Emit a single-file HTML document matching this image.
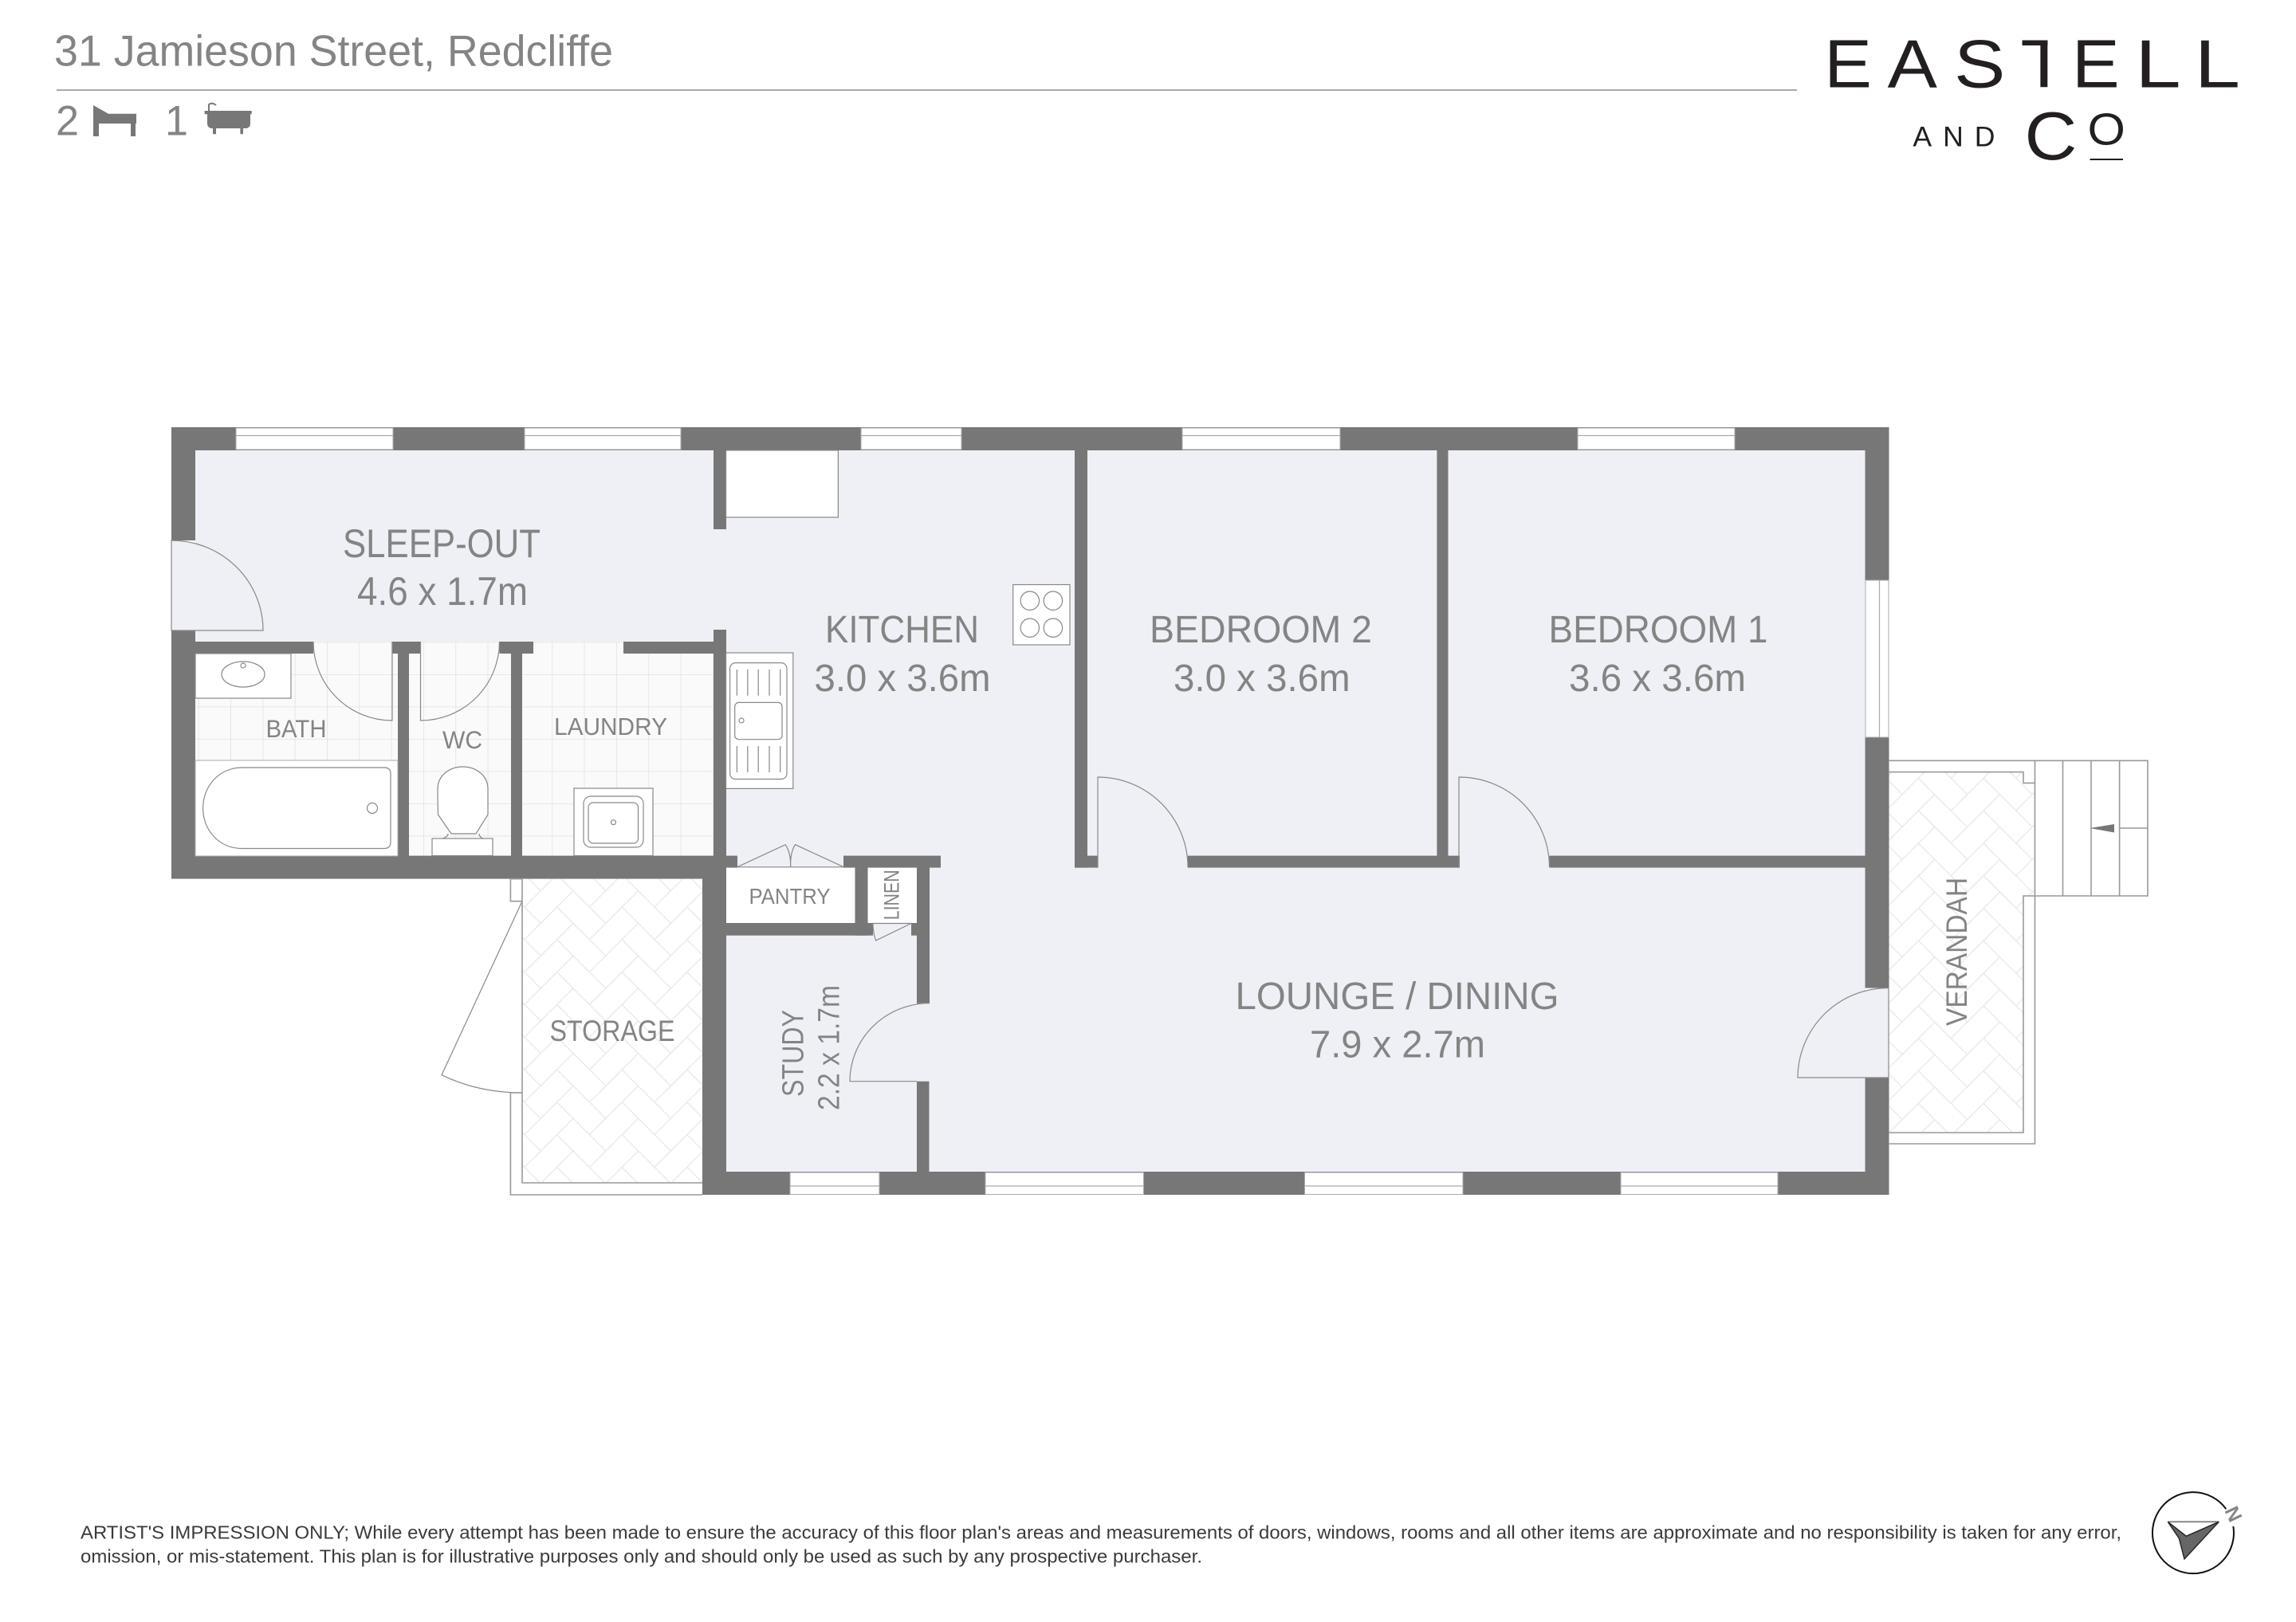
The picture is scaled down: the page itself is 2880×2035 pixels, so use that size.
<!DOCTYPE html>
<html><head><meta charset="utf-8"><style>
html,body{margin:0;padding:0;background:#fff}
svg{display:block}
text{font-family:"Liberation Sans",sans-serif;fill:#848484}
.l{stroke:#888;stroke-width:1.2;fill:none}
.w{stroke:#888;stroke-width:1.2;fill:#fff}
.win{fill:#fff;stroke:#aaa;stroke-width:1}
.g{stroke:#999;stroke-width:1.6;fill:none}
.logo text{fill:#231f20}
</style></head><body>
<svg width="2880" height="2035" viewBox="0 0 2880 2035" xmlns="http://www.w3.org/2000/svg">
<defs>
<pattern id="hb1" width="81.6" height="40.8" patternUnits="userSpaceOnUse" patternTransform="translate(698.6,1138)"><path d="M0 0L40.8 40.8M40.8 0L61.2 20.4M40.8 40.8L81.6 0M0 40.8L20.4 20.4" stroke="#e6e6e6" stroke-width="1.2" fill="none"/></pattern>
<pattern id="hb2" width="81.6" height="40.8" patternUnits="userSpaceOnUse" patternTransform="translate(2406.4,976.3)"><path d="M0 0L40.8 40.8M40.8 0L61.2 20.4M40.8 40.8L81.6 0M0 40.8L20.4 20.4" stroke="#e6e6e6" stroke-width="1.2" fill="none"/></pattern>
<pattern id="tile" width="40.33" height="40.5" patternUnits="userSpaceOnUse" patternTransform="translate(289,846)"><rect width="40.33" height="40.5" fill="#fafafa"/><path d="M0 0V40.5M0 0H40.33" stroke="#e2e2e2" stroke-width="1.6" fill="none"/></pattern>
<clipPath id="tc"><rect x="2500" y="30" width="68.5" height="100"/></clipPath>
</defs>
<rect width="2880" height="2035" fill="#fff"/>

<!-- header -->
<text x="68" y="82.7" font-size="55" textLength="701" lengthAdjust="spacingAndGlyphs">31 Jamieson Street, Redcliffe</text>
<rect x="71" y="112" width="2183" height="2" fill="#aaa"/>
<text x="70" y="169.3" font-size="53" textLength="29" lengthAdjust="spacingAndGlyphs">2</text>
<text x="207" y="169.3" font-size="53" textLength="29" lengthAdjust="spacingAndGlyphs">1</text>
<path d="M117 132L136 142.7L171 142.7L171 155L170 155L170 171L164 171L164 155L124 155L124 171L117 171Z" fill="#777"/>
<path d="M256.6 139H315.7V143.3H314V155Q314 160 309 161H305V168.3H301.4V161H271V168.3H267V161H265Q260 160 260 155V143.3H256.6Z" fill="#777"/>
<path d="M262 139V131Q266 128 271 132" stroke="#777" stroke-width="2" fill="none"/>

<!-- logo -->
<g class="logo">
<text x="2288.3" y="109.3" font-size="85" textLength="59.7" lengthAdjust="spacingAndGlyphs">E</text>
<text x="2367.7" y="109.3" font-size="85" textLength="62.3" lengthAdjust="spacingAndGlyphs">A</text>
<text x="2451" y="109.3" font-size="85" textLength="64.4" lengthAdjust="spacingAndGlyphs">S</text>
<text x="2534.4" y="109.3" font-size="85" textLength="59" lengthAdjust="spacingAndGlyphs" clip-path="url(#tc)">T</text>
<text x="2599" y="109.3" font-size="85" textLength="59.7" lengthAdjust="spacingAndGlyphs">E</text>
<text x="2678.3" y="109.3" font-size="85" textLength="57.4" lengthAdjust="spacingAndGlyphs">L</text>
<text x="2752.7" y="109.3" font-size="85" textLength="57.4" lengthAdjust="spacingAndGlyphs">L</text>
<text x="2399.4" y="183.7" font-size="35.6" textLength="103" lengthAdjust="spacing">AND</text>
<text x="2539.5" y="200" font-size="85" textLength="65.9" lengthAdjust="spacingAndGlyphs">C</text>
<text x="2618.5" y="181.5" font-size="57" textLength="47.4" lengthAdjust="spacingAndGlyphs">O</text>
<rect x="2621.5" y="199" width="41.5" height="2" fill="#231f20"/>
</g>

<!-- interior -->
<polygon points="245,565 2340,565 2340,1470 881,1470 881,1102 245,1102" fill="#eef0f5"/>

<!-- tiled rooms -->
<rect x="245" y="820" width="254" height="254" fill="url(#tile)"/>
<rect x="393" y="805" width="99" height="15" fill="url(#tile)"/>
<rect x="513" y="820" width="128" height="254" fill="url(#tile)"/>
<rect x="527.5" y="805" width="99" height="15" fill="url(#tile)"/>
<rect x="655" y="820" width="241" height="254" fill="url(#tile)"/>
<rect x="669" y="805" width="113" height="15" fill="url(#tile)"/>

<!-- white rooms / cupboards -->
<rect x="911" y="1088" width="162" height="70" fill="#fff"/>
<rect x="1088" y="1088" width="62" height="70" fill="#fff"/>
<rect x="655" y="1103" width="226" height="381" fill="url(#hb1)"/>
<polygon points="2369,968.6 2538,968.6 2538,982.4 2552.5,982.4 2552.5,1124 2538,1124 2538,1421 2369,1421" fill="url(#hb2)"/>

<!-- walls -->
<g fill="#777">
<rect x="215" y="536" width="2154.5" height="29"/>
<rect x="215" y="536" width="30" height="142"/>
<rect x="215" y="791" width="30" height="311.5"/>
<rect x="215" y="1073.6" width="696" height="29"/>
<rect x="245" y="805" width="148" height="15"/>
<rect x="492" y="805" width="35.5" height="15"/>
<rect x="626.5" y="805" width="42.5" height="15"/>
<rect x="782" y="805" width="114" height="15"/>
<rect x="499" y="805" width="14" height="270"/>
<rect x="641" y="805" width="14" height="270"/>
<rect x="895" y="565" width="16" height="99"/>
<rect x="895" y="790" width="16" height="313"/>
<rect x="881" y="1102" width="30" height="397"/>
<rect x="911" y="1073.6" width="14" height="15"/>
<rect x="1058" y="1073.6" width="122" height="15"/>
<rect x="1072.5" y="1088" width="16" height="85.7"/>
<rect x="1150" y="1088" width="16" height="170.7"/>
<rect x="911" y="1158" width="184" height="15.7"/>
<rect x="1143" y="1158" width="23" height="15.7"/>
<rect x="1150" y="1356.7" width="15.5" height="113.3"/>
<rect x="881" y="1470" width="1488.5" height="29"/>
<rect x="2339.5" y="536" width="30" height="703.6"/>
<rect x="2339.5" y="1352" width="30" height="147"/>
<rect x="1348" y="565" width="16" height="523.6"/>
<rect x="1348" y="1073.6" width="29.5" height="15"/>
<rect x="1490" y="1073.6" width="341" height="15"/>
<rect x="1943.5" y="1073.6" width="396" height="15"/>
<rect x="1802.4" y="565" width="14.1" height="510"/>
</g>

<!-- windows -->
<g class="win">
<rect x="296" y="537" width="197" height="27"/><rect x="658" y="537" width="196" height="27"/><rect x="1080" y="537" width="126" height="27"/><rect x="1483" y="537" width="198" height="27"/><rect x="1979" y="537" width="197" height="27"/>
<rect x="2340" y="728" width="29" height="197"/>
<rect x="991" y="1471" width="112" height="27.5"/><rect x="1236" y="1471" width="198.5" height="27.5"/><rect x="1636.5" y="1471" width="198.5" height="27.5"/><rect x="2033" y="1471" width="197" height="27.5"/>
</g>
<g stroke="#aaa" stroke-width="1.2">
<path d="M296 546.5H493M658 546.5H854M1080 546.5H1206M1483 546.5H1681M1979 546.5H2176M2357.5 728V925M991 1488H1103M1236 1488H1434.5M1636.5 1488H1835M2033 1488H2230" fill="none"/>
</g>

<!-- doors -->
<path d="M215 678A115 113 0 0 1 330 791H215Z" fill="#eef0f5" stroke="#888" stroke-width="1.2"/>
<path d="M492 805V904A99 99 0 0 1 393 805" class="l"/>
<path d="M527.5 805V904A99 99 0 0 0 626.5 805" class="l"/>
<path d="M1377 1088V975A113 113 0 0 1 1490 1088" class="l"/>
<path d="M1830 1088V975A113 113 0 0 1 1943.5 1088" class="l"/>
<path d="M1150 1258.7H1166A100 98 0 0 0 1066 1356.7H1150" fill="none" stroke="#888" stroke-width="1.2"/>
<path d="M2369 1239.6V1352H2255A113 113 0 0 1 2369 1239.6Z" fill="#eef0f5" stroke="#888" stroke-width="1.2"/>
<path d="M925.5 1087.4L985.2 1059.7Q992 1070 991.7 1087.4Q991 1070 997.5 1059.7L1057.6 1087.4" class="l"/>
<path d="M925 1087.8H1058" class="l"/>
<path d="M1095 1158.5H1143L1098.6 1180Q1095 1170 1095 1158.5Z" class="l"/>
<path d="M655 1130.7L554 1348.7Q600 1371 655 1371" class="l"/>

<!-- storage / verandah outlines -->
<path d="M655 1102.7V1484H881" class="g"/>
<path d="M655 1102.7H640.4V1130.7H655M640.4 1371H655M640.4 1371V1499H881" class="g"/>
<path d="M2369 968.6H2538V982.4H2552.5M2552.5 1124H2538V1421H2369" class="g"/>
<path d="M2369 954.3H2552.5V1435H2369" class="g"/>
<path d="M2552.5 954.3H2694V1124H2552.5M2587.5 954.3V1124M2623 954.3V1124M2658.6 954.3V1124M2658.6 1039H2694" class="g"/>
<polygon points="2621.4,1039 2652,1034 2652,1044.5" fill="#777"/>

<!-- bath fixtures -->
<rect x="245" y="820" width="120" height="56" class="w"/>
<ellipse cx="305" cy="846" rx="27" ry="16" class="w"/>
<circle cx="305" cy="835" r="3" class="w"/>
<rect x="245" y="954" width="254" height="120" fill="#fff" stroke="#aaa" stroke-width="1"/>
<path d="M304 963H482Q490 963 490 971V1056Q490 1064.5 482 1064.5H304C275 1064.5 254.6 1042 254.6 1014C254.6 986 275 963 304 963Z" class="w"/>
<ellipse cx="467" cy="1014" rx="6.5" ry="6.5" class="w"/>
<!-- wc -->
<rect x="542" y="1052" width="76" height="21.6" class="w"/>
<path d="M562 1046Q562 1050 555 1052M601 1046Q601 1050 606 1052" class="l"/>
<path d="M566 1046L597 1046L612 1022Q612 1005 612 990C612 972 596 962 580.5 962C565 962 549 972 549 990Q549 1005 549.5 1022Z" class="w"/>
<!-- laundry -->
<rect x="720" y="989" width="99" height="84.6" class="w"/>
<rect x="732" y="999" width="75" height="64" rx="9" class="w"/>
<rect x="738" y="1007" width="62.5" height="51" rx="6" class="w"/>
<circle cx="769.4" cy="1031.7" r="3" class="w"/>
<!-- kitchen -->
<rect x="910.6" y="565" width="140.8" height="84" class="w"/>
<rect x="1270.7" y="733.5" width="71.3" height="75.5" class="w"/>
<circle cx="1291.8" cy="753.7" r="11.7" class="w"/><circle cx="1320.9" cy="753.7" r="11.7" class="w"/><circle cx="1291.8" cy="787.7" r="11.7" class="w"/><circle cx="1320.9" cy="787.7" r="11.7" class="w"/>
<rect x="910.6" y="819" width="84.2" height="170.4" class="w"/>
<rect x="915.6" y="831.6" width="71.4" height="145.9" rx="7" class="w"/>
<rect x="921.7" y="881.4" width="59.3" height="46.3" rx="5" class="w"/>
<circle cx="930" cy="904" r="3" class="w"/>
<path d="M924.4 840V872.7M937.8 840V872.7M951.2 840V872.7M965 840V872.7M978.7 840V872.7M924.4 936V969M937.8 936V969M951.2 936V969M965 936V969M978.7 936V969" class="l"/>

<!-- labels -->
<text x="430" y="699" font-size="50" textLength="248" lengthAdjust="spacingAndGlyphs">SLEEP-OUT</text>
<text x="448" y="759" font-size="50" textLength="214" lengthAdjust="spacingAndGlyphs">4.6 x 1.7m</text>
<text x="1035" y="806" font-size="48" textLength="193" lengthAdjust="spacingAndGlyphs">KITCHEN</text>
<text x="1021.5" y="867" font-size="48" textLength="221" lengthAdjust="spacingAndGlyphs">3.0 x 3.6m</text>
<text x="1442" y="806" font-size="48" textLength="279" lengthAdjust="spacingAndGlyphs">BEDROOM 2</text>
<text x="1472" y="867" font-size="48" textLength="221.6" lengthAdjust="spacingAndGlyphs">3.0 x 3.6m</text>
<text x="1942.5" y="806" font-size="48" textLength="275" lengthAdjust="spacingAndGlyphs">BEDROOM 1</text>
<text x="1968" y="867" font-size="48" textLength="222" lengthAdjust="spacingAndGlyphs">3.6 x 3.6m</text>
<text x="1549.5" y="1266" font-size="48" textLength="406" lengthAdjust="spacingAndGlyphs">LOUNGE / DINING</text>
<text x="1643" y="1326.7" font-size="48" textLength="220" lengthAdjust="spacingAndGlyphs">7.9 x 2.7m</text>
<text x="371.5" y="925" font-size="31.5" text-anchor="middle" textLength="76" lengthAdjust="spacingAndGlyphs">BATH</text>
<text x="580" y="939" font-size="31.5" text-anchor="middle" textLength="50" lengthAdjust="spacingAndGlyphs">WC</text>
<text x="695" y="922" font-size="31" textLength="142" lengthAdjust="spacingAndGlyphs">LAUNDRY</text>
<text x="689.5" y="1306" font-size="37.5" textLength="157" lengthAdjust="spacingAndGlyphs">STORAGE</text>
<text x="939.5" y="1134" font-size="28" textLength="102" lengthAdjust="spacingAndGlyphs">PANTRY</text>
<text transform="translate(1127.7,1154.3) rotate(-90)" font-size="27" textLength="63" lengthAdjust="spacingAndGlyphs">LINEN</text>
<text transform="translate(1007.7,1376) rotate(-90)" font-size="38" textLength="109" lengthAdjust="spacingAndGlyphs">STUDY</text>
<text transform="translate(1052.6,1393) rotate(-90)" font-size="38" textLength="157" lengthAdjust="spacingAndGlyphs">2.2 x 1.7m</text>
<text transform="translate(2466.8,1287) rotate(-90)" font-size="36.8" textLength="186" lengthAdjust="spacingAndGlyphs">VERANDAH</text>

<!-- footer -->
<text x="101" y="1930.7" font-size="23.5" style="fill:#3a3a3a" textLength="2560" lengthAdjust="spacingAndGlyphs">ARTIST'S IMPRESSION ONLY; While every attempt has been made to ensure the accuracy of this floor plan's areas and measurements of doors, windows, rooms and all other items are approximate and no responsibility is taken for any error,</text>
<text x="101" y="1960.7" font-size="23.5" style="fill:#3a3a3a" textLength="1407" lengthAdjust="spacingAndGlyphs">omission, or mis-statement. This plan is for illustrative purposes only and should only be used as such by any prospective purchaser.</text>

<!-- compass -->
<path d="M2801.3 1915A51 51 0 1 1 2792.3 1893.3" fill="none" stroke="#111" stroke-width="2"/>
<path d="M2719.3 1909.3H2783.3" stroke="#888" stroke-width="2"/>
<polygon points="2719.3,1909.3 2733.3,1930 2740,1956 2783.3,1909.3 2742.3,1927.3" fill="#666" stroke="#222" stroke-width="1.4"/>
<text transform="translate(2790,1895) rotate(65)" font-size="25" font-weight="bold" style="fill:#888">N</text>
</svg>
</body></html>
